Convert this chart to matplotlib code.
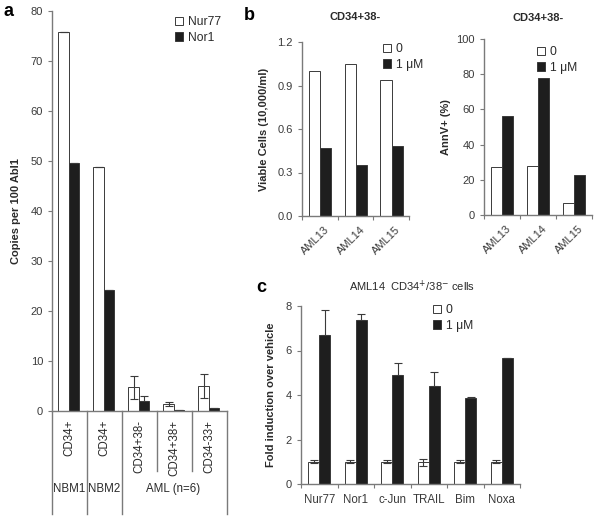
import matplotlib
matplotlib.use("Agg")
import matplotlib.pyplot as plt
import matplotlib.transforms as mtransforms
from matplotlib.patches import Patch
import numpy as np

plt.rcParams['font.family'] = ['Liberation Sans', 'DejaVu Sans']

# ---------------- data ----------------
# panel a
a_cats = ["CD34+", "CD34+", "CD34+38-", "CD34+38+", "CD34-33+"]
a_groups = ["NBM1", "NBM2", "AML (n=6)"]
a_nur77 = [75.8, 48.8, 4.8, 1.5, 5.0]
a_nur77_err = [0, 0, 2.3, 0.4, 2.4]
a_nor1 = [49.6, 24.2, 2.1, 0.15, 0.6]
a_nor1_err = [0, 0, 1.0, 0.0, 0.1]
a_series = ["Nur77", "Nor1"]

# panel b
b_cats = ["AML13", "AML14", "AML15"]
b_viable_0 = [1.00, 1.045, 0.94]
b_viable_1 = [0.47, 0.35, 0.485]
b_annv_0 = [27, 28, 6.6]
b_annv_1 = [56, 78, 22.6]
b_series = ["0", "1 \u03bcM"]

# panel c
c_cats = ["Nur77", "Nor1", "c-Jun", "TRAIL", "Bim", "Noxa"]
c_0 = [1.0, 1.0, 1.0, 0.98, 1.0, 1.0]
c_0_err = [0.07, 0.06, 0.06, 0.15, 0.06, 0.06]
c_1 = [6.7, 7.38, 4.9, 4.4, 3.85, 5.68]
c_1_err = [1.1, 0.25, 0.52, 0.62, 0.07, 0.0]

# ---------------- style ----------------
W, H = 604, 518
fig = plt.figure(figsize=(W / 100, H / 100), dpi=100)
AXC = '#7a7a7a'
TXT = '#2a2a2a'
TICKTXT = '#3a3a3a'
BLK = '#1e1e1e'
EDGE = '#3a3a3a'
FS = 8


def ax_px(l, t, r, b):
    return fig.add_axes([l / W, 1 - b / H, (r - l) / W, (b - t) / H])


def style(ax):
    for s in ['top', 'right']:
        ax.spines[s].set_visible(False)
    for s in ['left', 'bottom']:
        ax.spines[s].set_color(AXC)
        ax.spines[s].set_linewidth(1.0)
    ax.tick_params(colors=AXC, labelcolor=TICKTXT, labelsize=FS, length=3, width=0.8)


def legend(ax, x, y, labels):
    handles = [Patch(facecolor='white', edgecolor=EDGE, linewidth=0.7),
               Patch(facecolor=BLK, edgecolor=EDGE, linewidth=0.7)]
    ax.legend(handles, labels, loc='upper left', bbox_to_anchor=(x / W, 1 - y / H),
              bbox_transform=fig.transFigure, frameon=False, fontsize=8.7,
              handlelength=0.7, handleheight=0.7, handletextpad=0.35,
              labelspacing=0.3, borderpad=0, borderaxespad=0, labelcolor=TXT)


w = 0.3
errkw = dict(ecolor=EDGE, elinewidth=0.8, capsize=2.8, capthick=0.8)


def up_only(err):
    return [np.zeros(len(err)), err]


# ---------------- panel a ----------------
ax = ax_px(52, 11, 227, 411)
style(ax)
x = np.arange(len(a_cats))
ax.bar(x + 0.33, a_nur77, w, yerr=a_nur77_err, color='white', edgecolor=EDGE,
       linewidth=0.7, error_kw=errkw, label=a_series[0])
ax.bar(x + 0.63, a_nor1, w, yerr=up_only(a_nor1_err), color=BLK, edgecolor=EDGE,
       linewidth=0.7, error_kw=errkw, label=a_series[1])
ax.set_xlim(0, len(a_cats))
ax.set_ylim(0, 80)
ax.set_yticks(range(0, 81, 10))
ax.set_xticks([])
ax.set_ylabel("Copies per 100 Abl1", fontsize=8, fontweight='bold', color=TXT, labelpad=7)
trans = mtransforms.blended_transform_factory(ax.transData, ax.transAxes)
# category dividers below axis
for xv, y0 in [(0, -0.2575), (1, -0.2575), (2, -0.2575), (3, -0.15), (4, -0.15), (5, -0.2575)]:
    ax.plot([xv, xv], [0, y0], transform=trans, color=AXC, lw=1.0, clip_on=False)
for i, lab in enumerate(a_cats):
    ax.text(i + 0.5, -0.022, lab, transform=trans, rotation=90, ha='center', va='top',
            fontsize=8.3, color=TXT)
for xc, lab in zip([0.5, 1.5, 3.45], a_groups):
    ax.text(xc, -0.195, lab, transform=trans, ha='center', va='center',
            fontsize=8.3, color=TXT)
legend(ax, 175, 16, a_series)
fig.text(9 / W, 1 - 12 / H, "a", fontsize=13, fontweight='bold', ha='center', va='center')

# ---------------- panel b left ----------------
xb = np.arange(len(b_cats))
ax = ax_px(302, 42, 409, 216)
style(ax)
ax.bar(xb + 0.355, b_viable_0, 0.31, color='white', edgecolor=EDGE, linewidth=0.7)
ax.bar(xb + 0.665, b_viable_1, 0.31, color=BLK, edgecolor=EDGE, linewidth=0.7)
ax.set_xlim(0, 3)
ax.set_ylim(0, 1.2)
ax.set_yticks([0, 0.3, 0.6, 0.9, 1.2])
ax.set_yticklabels(["0.0", "0.3", "0.6", "0.9", "1.2"])
ax.set_xticks([0, 1, 2, 3])
ax.set_xticklabels([])
ax.set_xticks(xb + 0.62, minor=True)
ax.set_xticklabels(b_cats, minor=True, rotation=45, ha='right', rotation_mode='anchor')
ax.tick_params(axis='x', which='minor', length=0, pad=6, labelsize=FS, labelcolor=TICKTXT)
ax.set_ylabel("Viable Cells (10,000/ml)", fontsize=8, fontweight='bold', color=TXT, labelpad=6)
ax.set_title("CD34+38-", fontsize=8, fontweight='bold', color=TXT, pad=16)
legend(ax, 383, 43, b_series)
fig.text(249 / W, 1 - 16 / H, "b", fontsize=13, fontweight='bold', ha='center', va='center')

# ---------------- panel b right ----------------
ax = ax_px(484, 39, 592, 215)
style(ax)
ax.bar(xb + 0.35, b_annv_0, 0.3, color='white', edgecolor=EDGE, linewidth=0.7)
ax.bar(xb + 0.65, b_annv_1, 0.3, color=BLK, edgecolor=EDGE, linewidth=0.7)
ax.set_xlim(0, 3)
ax.set_ylim(0, 100)
ax.set_yticks(range(0, 101, 20))
ax.set_xticks([0, 1, 2, 3])
ax.set_xticklabels([])
ax.set_xticks(xb + 0.62, minor=True)
ax.set_xticklabels(b_cats, minor=True, rotation=45, ha='right', rotation_mode='anchor')
ax.tick_params(axis='x', which='minor', length=0, pad=6, labelsize=FS, labelcolor=TICKTXT)
ax.set_ylabel("AnnV+ (%)", fontsize=8, fontweight='bold', color=TXT, labelpad=4)
ax.set_title("CD34+38-", fontsize=8, fontweight='bold', color=TXT, pad=13)
legend(ax, 537, 46, b_series)

# ---------------- panel c ----------------
xc = np.arange(len(c_cats))
ax = ax_px(301, 306, 520, 484)
style(ax)
ax.bar(xc + 0.35, c_0, 0.3, yerr=c_0_err, color='white', edgecolor=EDGE, linewidth=0.7,
       error_kw=errkw)
ax.bar(xc + 0.65, c_1, 0.3, yerr=up_only(c_1_err), color=BLK, edgecolor=EDGE, linewidth=0.7,
       error_kw=errkw)
ax.set_xlim(0, 6)
ax.set_ylim(0, 8)
ax.set_yticks(range(0, 9, 2))
ax.set_xticks(range(0, 7))
ax.set_xticklabels([])
ax.set_xticks(xc + 0.5, minor=True)
ax.set_xticklabels(c_cats, minor=True)
ax.tick_params(axis='x', which='minor', length=0, pad=7, labelsize=8.3, labelcolor=TICKTXT)
ax.set_ylabel("Fold induction over vehicle", fontsize=8, fontweight='bold', color=TXT, labelpad=7)
fig.text(412 / W, 1 - 286 / H, "AML14  CD34$^{+}$/38$^{-}$ cells", fontsize=8, color=TXT,
         ha='center', va='center')
legend(ax, 433, 304, b_series)
fig.text(261 / W, 1 - 287 / H, "c", fontsize=13, fontweight='bold', ha='center', va='center')

fig.savefig("out.png", dpi=100)
